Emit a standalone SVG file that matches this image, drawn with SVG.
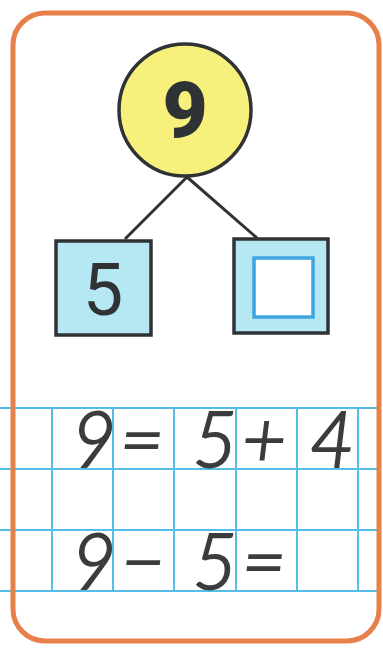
<svg xmlns="http://www.w3.org/2000/svg" width="383" height="651" viewBox="0 0 383 651">
<style>
.grid{stroke:#55bde6;stroke-width:2;fill:none}
.box{fill:#b6e8f3;stroke:#2f3335;stroke-width:3.5}
.hand{font-family:Lato,"Open Sans","DejaVu Sans",sans-serif;font-weight:300;font-style:italic;font-size:76px;fill:#3a3c3e;stroke:#3a3c3e;stroke-width:2;text-anchor:middle}
.conn{stroke:#2f3335;stroke-width:3;fill:none}
</style>
<rect width="383" height="651" fill="#ffffff"/>
<g id="grid">
<path class="grid" d="M0 408H379M0 469H379M0 530H379M0 591H379"/>
<path class="grid" d="M52 408V591M113 408V591M174 408V591M236 408V591M297 408V591M358 408V591"/>
</g>
<rect id="frame" x="13" y="13" width="366" height="628" rx="32" fill="none" stroke="#e8804c" stroke-width="5"/>
<g id="connectors">
<path class="conn" d="M187 177L125 239"/>
<path class="conn" d="M187 177L257 238"/>
</g>
<g id="whole">
<circle cx="185" cy="110" r="66" fill="#f7f07c" stroke="#2f3335" stroke-width="3.5"/>
<text x="185" y="137" font-family="Roboto,'Liberation Sans',sans-serif" font-weight="900" font-size="78" fill="#2f3335" text-anchor="middle">9</text>
</g>
<g id="part-left">
<rect class="box" x="56" y="241" width="95" height="94"/>
<text x="103" y="315" font-family="Roboto,'Liberation Sans',sans-serif" font-weight="400" font-size="72" fill="#2f3335" text-anchor="middle">5</text>
</g>
<g id="part-right">
<rect class="box" x="234" y="239" width="94" height="94"/>
<rect x="254" y="258" width="59" height="59" fill="#ffffff" stroke="#3fa4e0" stroke-width="3.5"/>
</g>
<g id="equation1">
<text class="hand" x="94" y="467">9</text>
<text class="hand" x="142" y="467">=</text>
<text class="hand" x="215" y="467">5</text>
<text class="hand" x="264" y="467">+</text>
<text class="hand" x="332" y="467">4</text>
</g>
<g id="equation2">
<text class="hand" x="94" y="589">9</text>
<text class="hand" x="143" y="589">−</text>
<text class="hand" x="215" y="589">5</text>
<text class="hand" x="264" y="589">=</text>
</g>
</svg>
